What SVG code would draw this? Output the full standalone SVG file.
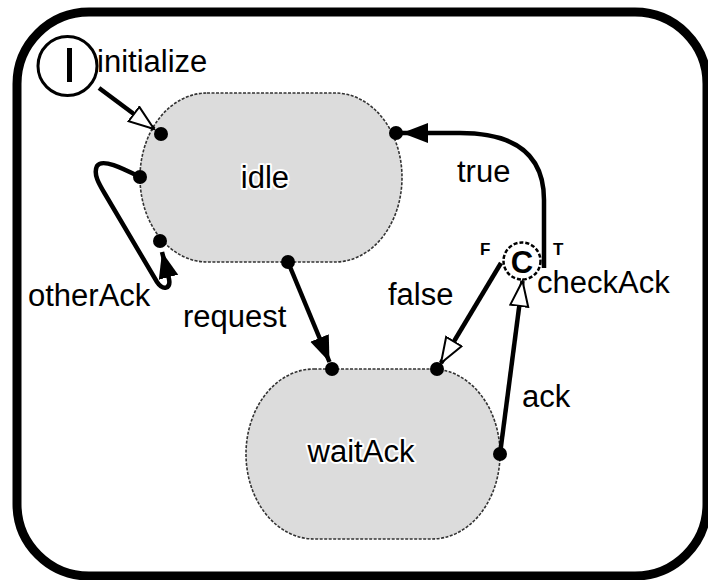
<svg xmlns="http://www.w3.org/2000/svg" width="708" height="580" viewBox="0 0 708 580">
<style>
.frame{fill:#fff;stroke:#000;stroke-width:9}
.state{fill:#dcdcdc;stroke:#333;stroke-width:1.6;stroke-dasharray:3 1.5}
.lbl{font-family:"Liberation Sans",Arial,sans-serif;font-size:31px;fill:#000}
.name{font-family:"Liberation Sans",Arial,sans-serif;font-size:31px;fill:#000;stroke:#fff;stroke-width:4;paint-order:stroke;stroke-linejoin:round;text-anchor:middle}
.edge{fill:none;stroke:#000;stroke-width:4.5}
.dot{fill:#000}
.tf{font-family:"Liberation Sans",Arial,sans-serif;font-size:17px;font-weight:bold;fill:#000}
</style>
<defs>
<marker id="af" markerUnits="userSpaceOnUse" markerWidth="30" markerHeight="24" refX="26" refY="10" orient="auto">
<path d="M0,0 L26,10 L0,20 Z" fill="#000"/>
</marker>
<marker id="ah" markerUnits="userSpaceOnUse" markerWidth="30" markerHeight="22" refX="26" refY="10" orient="auto">
<path d="M1,1 L26,10 L1,19 Z" fill="#fff" stroke="#000" stroke-width="2"/>
</marker>
</defs>
<rect class="frame" x="17" y="12" width="690" height="564" rx="72" ry="72"/>
<g id="idle">
<rect class="state" x="140" y="93" width="262" height="169" rx="67" ry="84.5"/>
<text class="name" x="265" y="188">idle</text>
</g>
<g id="waitAck">
<rect class="state" x="246" y="369" width="254" height="170" rx="68" ry="85"/>
<text class="name" x="361" y="462">waitAck</text>
</g>
<g id="init">
<circle cx="67.5" cy="66" r="29.5" fill="#fff" stroke="#000" stroke-width="3"/>
<rect x="67" y="48" width="5" height="34" fill="#000"/>
</g>
<g id="checkAck">
<circle cx="522" cy="261" r="18.5" fill="#fff" stroke="#000" stroke-width="2.5" stroke-dasharray="4 2"/>
<text x="522" y="273" text-anchor="middle" font-family="Liberation Sans,Arial,sans-serif" font-size="31" font-weight="bold">C</text>
<text class="tf" x="480" y="255">F</text>
<text class="tf" x="553" y="255">T</text>
</g>
<g id="connectors">
<path class="edge" d="M99,88 L154,129" marker-end="url(#ah)"/>
<path class="edge" d="M140,177 C122,168 102,158 97,166 C93,174 99,184 105,194 L157,282 C163,291 171,289 169,279 L162,252" marker-end="url(#af)"/>
<path class="edge" d="M288,262 L329.5,362" marker-end="url(#af)"/>
<path class="edge" d="M544,268 L544,200 C544,152 512,133 460,133 L402,133" marker-end="url(#af)"/>
<path class="edge" d="M501,263 L441,363" marker-end="url(#ah)"/>
<path class="edge" d="M500,454 L522.5,281" marker-end="url(#ah)"/>
<circle class="dot" cx="161" cy="134" r="7"/>
<circle class="dot" cx="140" cy="177" r="7"/>
<circle class="dot" cx="160" cy="241" r="7"/>
<circle class="dot" cx="288" cy="262" r="7"/>
<circle class="dot" cx="396" cy="133" r="7"/>
<circle class="dot" cx="332" cy="369" r="7"/>
<circle class="dot" cx="437" cy="369" r="7"/>
<circle class="dot" cx="500" cy="454" r="7"/>
</g>
<text class="lbl" x="97" y="72">initialize</text>
<text class="lbl" x="457" y="182">true</text>
<text class="lbl" x="388" y="305">false</text>
<text class="lbl" x="537" y="293">checkAck</text>
<text class="lbl" x="28" y="306">otherAck</text>
<text class="lbl" x="183" y="327">request</text>
<text class="lbl" x="522" y="407">ack</text>
</svg>
